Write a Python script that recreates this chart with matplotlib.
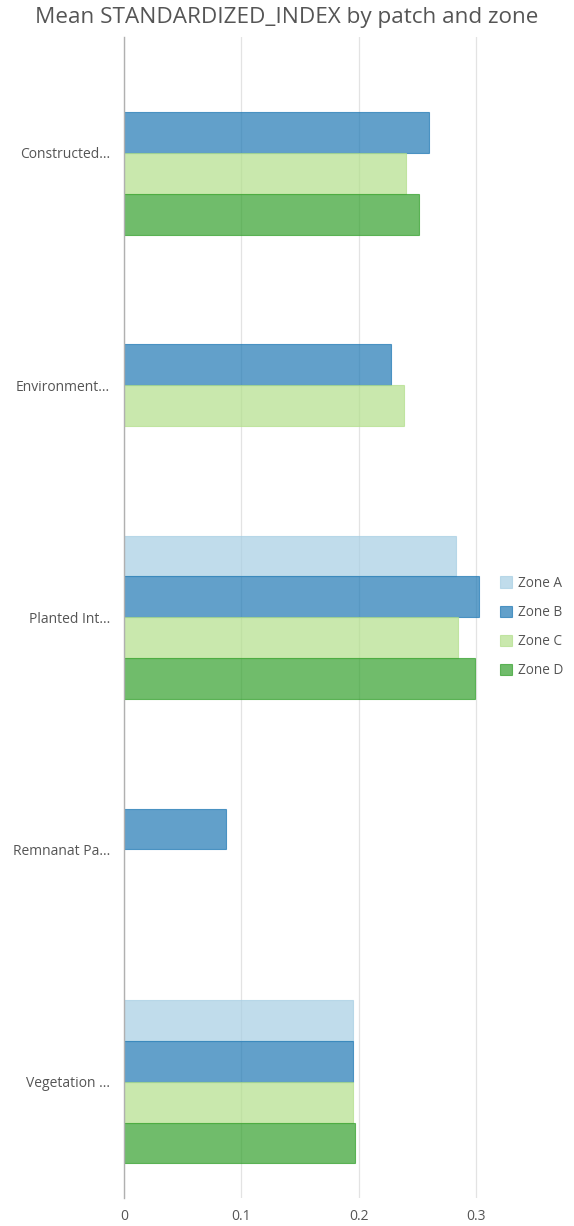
import numpy as np
import matplotlib
matplotlib.use("Agg")
import matplotlib.pyplot as plt

categories = ["Constructed...", "Environment...", "Planted Int...", "Remnanat Pa...", "Vegetation ..."]
zones = ["Zone A", "Zone B", "Zone C", "Zone D"]
zone_a = [np.nan, np.nan, 0.283, np.nan, 0.195]
zone_b = [0.260, 0.227, 0.302, 0.087, 0.195]
zone_c = [0.240, 0.238, 0.284, np.nan, 0.195]
zone_d = [0.251, np.nan, 0.299, np.nan, 0.197]
x_ticks = [0, 0.1, 0.2, 0.3]
x_ticklabels = ["0", "0.1", "0.2", "0.3"]

series = [zone_a, zone_b, zone_c, zone_d]
colors = ["#a6cee3", "#1f78b4", "#b2df8a", "#33a02c"]

plt.rcParams['font.family'] = ['Open Sans', 'DejaVu Sans']

fig = plt.figure(figsize=(5.74, 12.26), dpi=100)
ax = fig.add_axes([0.216, 0.023, 0.655, 0.947])

n = len(categories)
y = np.arange(n)
bar_h = 0.176
handles = []
for i, (vals, col) in enumerate(zip(series, colors)):
    offs = (i - 1.5) * bar_h
    h = ax.barh(y + offs, vals, height=bar_h, color=col, alpha=0.7,
                edgecolor=col, linewidth=0.8, label=zones[i])
    handles.append(h)

ax.set_ylim(n - 0.5, -0.5)
ax.set_xlim(0, 0.32)
ax.set_yticks(y)
ax.set_yticklabels(categories)
ax.set_xticks(x_ticks)
ax.set_xticklabels(x_ticklabels)
ax.tick_params(axis='y', length=0, pad=10, labelsize=10, labelcolor="#555555")
ax.tick_params(axis='x', length=0, pad=8, labelsize=10, labelcolor="#555555")
ax.grid(axis='x', color="#e3e3e3", linewidth=0.9)
ax.set_axisbelow(True)
for s in ["top", "right", "bottom"]:
    ax.spines[s].set_visible(False)
ax.spines["left"].set_color("#b0b0b0")
ax.spines["left"].set_linewidth(1.0)

fig.text(0.5, 1 - 18 / 1226, "Mean STANDARDIZED_INDEX by patch and zone",
         ha="center", va="center", fontsize=16.2, color="#555555")

leg = fig.legend(handles=handles, labels=zones, loc="center left",
                 bbox_to_anchor=(0.85, 1 - 627 / 1226), frameon=False, fontsize=9.8,
                 handlelength=0.9, handleheight=0.9, handletextpad=0.4,
                 labelspacing=1.05, labelcolor="#555555")

fig.savefig("out.png", dpi=100)
